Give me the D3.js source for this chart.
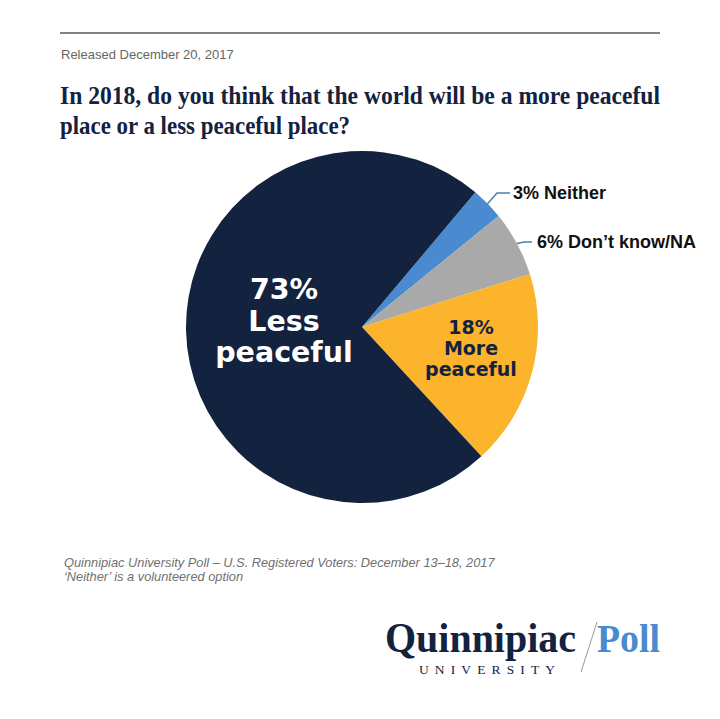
<!DOCTYPE html>
<html>
<head>
<meta charset="utf-8">
<script src="https://cdn.jsdelivr.net/npm/d3@7"></script>
<style>
  html, body { margin: 0; padding: 0; background: #fff; }
  svg { display: block; }
</style>
</head>
<body>
<div id="chart"></div>
<script>
// Poll answers, in the order they run clockwise from the "Neither" slice
const categories = ["Neither", "Don\u2019t know/NA", "More peaceful", "Less peaceful"];
const values = [3, 6, 18, 73];
const palette = ["#4a8ad0", "#a9a9a9", "#fbb42b", "#13223f"];

const width = 720, height = 719;
const navy = "#13223f";
const sans = "'Liberation Sans', Arial, sans-serif";
const wide = "'DejaVu Sans', Verdana, sans-serif";
const serif = "'Liberation Serif', 'Times New Roman', serif";

const svg = d3.select("#chart").append("svg")
    .attr("width", width)
    .attr("height", height);

// header rule + release date
svg.append("line")
    .attr("x1", 60).attr("x2", 660)
    .attr("y1", 33).attr("y2", 33)
    .attr("stroke", "#5a5a5a").attr("stroke-width", 1.5);

svg.append("text")
    .attr("x", 61).attr("y", 59)
    .attr("font-family", sans).attr("font-size", 13)
    .attr("fill", "#666")
    .text("Released December 20, 2017");

// title (squeezed a bit to mimic the narrower Garamond of the original)
const titleLines = [
    { t: "In 2018, do you think that the world will be a more peaceful", w: 600 },
    { t: "place or a less peaceful place?", w: 290 }
];
const title = svg.append("text")
    .attr("font-family", serif).attr("font-size", 25.5)
    .attr("font-weight", "bold").attr("fill", navy);
titleLines.forEach((l, i) => {
    title.append("tspan")
        .attr("x", 60).attr("y", 104 + i * 30)
        .attr("textLength", l.w).attr("lengthAdjust", "spacingAndGlyphs")
        .text(l.t);
});

// pie
const cx = 362, cy = 327, radius = 176;
const color = d3.scaleOrdinal().domain(categories).range(palette);
const start = 40.1 * Math.PI / 180;
const pie = d3.pie().sort(null).startAngle(start).endAngle(start + 2 * Math.PI);
const arcs = pie(values);
const arc = d3.arc().innerRadius(0).outerRadius(radius);

const g = svg.append("g").attr("transform", `translate(${cx},${cy})`);
g.selectAll("path")
    .data(arcs)
    .join("path")
    .attr("d", arc)
    .attr("fill", (d, i) => color(categories[i]));

// small slices: leader lines + outside labels
const outer = [
    { i: 0, elbow: [135, -134], end: [148, -134], tx: 151 },
    { i: 1, elbow: [162, -85], end: [170, -85], tx: 175 }
];
outer.forEach(o => {
    const a = arcs[o.i];
    const mid = (a.startAngle + a.endAngle) / 2;
    const p0 = [Math.sin(mid) * radius, -Math.cos(mid) * radius];
    g.append("polyline")
        .attr("points", [p0, o.elbow, o.end].map(p => p.join(",")).join(" "))
        .attr("fill", "none")
        .attr("stroke", "#4a7fae").attr("stroke-width", 1.5);
    g.append("text")
        .attr("x", o.tx).attr("y", o.end[1])
        .attr("dy", "0.36em")
        .attr("font-family", sans).attr("font-size", 18)
        .attr("font-weight", "bold").attr("fill", "#111")
        .text(`${values[o.i]}% ${categories[o.i]}`);
});

// big slices: labels inside
function insideLabel(i, x, y, size, step, fill) {
    const words = categories[i].split(" ");
    const lines = [`${values[i]}%`].concat(words);
    lines.forEach((l, k) => {
        g.append("text")
            .attr("x", x).attr("y", y + k * step)
            .attr("text-anchor", "middle")
            .attr("font-family", wide).attr("font-size", size)
            .attr("font-weight", "bold").attr("fill", fill)
            .text(l);
    });
}
insideLabel(3, -78, -28, 28.5, 31.5, "#fff");
insideLabel(2, 109, 7, 19, 21, navy);

// source notes
const notes = svg.append("text")
    .attr("font-family", sans).attr("font-size", 12.8)
    .attr("font-style", "italic").attr("fill", "#707070");
["Quinnipiac University Poll \u2013 U.S. Registered Voters: December 13\u201318, 2017",
 "\u2018Neither\u2019  is a volunteered option"].forEach((t, i) => {
    notes.append("tspan").attr("x", 64).attr("y", 567 + i * 14).text(t);
});

// logo
const logo = svg.append("g");
logo.append("text")
    .attr("x", 385).attr("y", 652)
    .attr("font-family", serif).attr("font-size", 43)
    .attr("font-weight", "bold").attr("fill", navy)
    .attr("textLength", 191).attr("lengthAdjust", "spacingAndGlyphs")
    .text("Quinnipiac");
logo.append("line")
    .attr("x1", 581).attr("y1", 672)
    .attr("x2", 597).attr("y2", 622)
    .attr("stroke", "#999").attr("stroke-width", 1);
logo.append("text")
    .attr("x", 597).attr("y", 652)
    .attr("font-family", serif).attr("font-size", 40)
    .attr("font-weight", "bold").attr("fill", "#4a8ad0")
    .attr("textLength", 63).attr("lengthAdjust", "spacingAndGlyphs")
    .text("Poll");
logo.append("text")
    .attr("x", 419).attr("y", 674)
    .attr("font-family", serif).attr("font-size", 13.5)
    .attr("fill", navy)
    .attr("textLength", 136).attr("lengthAdjust", "spacing")
    .text("UNIVERSITY");
</script>
</body>
</html>
